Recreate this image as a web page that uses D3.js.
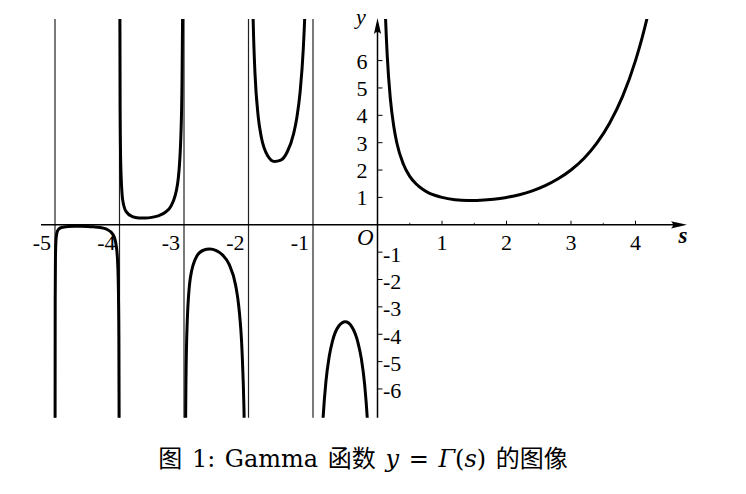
<!DOCTYPE html>
<html lang="zh">
<head>
  <meta charset="UTF-8">
  <title>Gamma</title>
  <script src="https://d3js.org/d3.v7.min.js"></script>
  <style>
    body { margin: 0; background: #fff; }
    text { font-family: "Liberation Serif", "Noto Sans CJK SC", serif; fill: #000; }
    text.cap { font-family: "DejaVu Serif", "Noto Sans CJK SC", serif; }
  </style>
</head>
<body>
  <script>
    (() => {
      "use strict";

      // ---------------------------------------------------------------
      //  Data
      // ---------------------------------------------------------------
      const xTicksNeg = [-5, -4, -3, -2, -1];
      const xTicksPos = [1, 2, 3, 4];
      const xMinor = [0.5, 1.5, 2.5, 3.5];
      const yTicksPos = [1, 2, 3, 4, 5, 6];
      const yTicksNeg = [-1, -2, -3, -4, -5, -6];
      const asymptotes = [-5, -4, -3, -2, -1];

      const branch1 = [[-4.999, -8.3], [-4.997, -2.8], [-4.993, -1.2], [-4.985, -0.57], [-4.97, -0.29],
        [-4.95, -0.18], [-4.9, -0.10], [-4.8, -0.062], [-4.7, -0.054], [-4.6, -0.054], [-4.5, -0.060],
        [-4.4, -0.074], [-4.3, -0.10], [-4.2, -0.16], [-4.1, -0.36], [-4.05, -0.78], [-4.03, -1.33],
        [-4.02, -2.0], [-4.01, -4.1], [-4.005, -8.2]];
      const branch2 = [[-3.9955, 9.3], [-3.99, 4.23], [-3.98, 2.15], [-3.95, 0.90], [-3.9, 0.49],
        [-3.8, 0.30], [-3.7, 0.252], [-3.6, 0.247], [-3.5, 0.270], [-3.4, 0.326], [-3.3, 0.439],
        [-3.2, 0.689], [-3.1, 1.49], [-3.05, 3.14], [-3.03, 5.35], [-3.02, 8.13]];
      const branch3 = [[-2.98, -8.55], [-2.97, -5.78], [-2.95, -3.56], [-2.9, -1.92], [-2.8, -1.14],
        [-2.7, -0.931], [-2.6, -0.889], [-2.5, -0.945], [-2.4, -1.108], [-2.3, -1.447], [-2.2, -2.205],
        [-2.15, -3.0], [-2.1, -4.63], [-2.07, -6.76], [-2.05, -9.58]];
      const branch4 = [[-1.95, 10.5], [-1.93, 7.67], [-1.92, 6.79], [-1.9, 5.56], [-1.85, 3.96],
        [-1.8, 3.19], [-1.7, 2.51], [-1.6, 2.31], [-1.5, 2.36], [-1.4, 2.66], [-1.3, 3.33],
        [-1.25, 3.92], [-1.2, 4.85], [-1.15, 6.45], [-1.12, 8.1], [-1.1, 9.72]];
      const branch5 = [[-0.9, -10.57], [-0.87, -8.32], [-0.85, -7.32], [-0.8, -5.74], [-0.75, -4.83],
        [-0.7, -4.27], [-0.6, -3.70], [-0.5, -3.545], [-0.4, -3.72], [-0.3, -4.33], [-0.25, -4.90],
        [-0.2, -5.82], [-0.15, -7.42], [-0.12, -9.05], [-0.1, -10.69]];
      const branch6 = [[0.1, 9.51], [0.12, 7.86], [0.15, 6.22], [0.2, 4.59], [0.25, 3.63], [0.3, 2.99],
        [0.4, 2.22], [0.5, 1.77], [0.6, 1.49], [0.7, 1.30], [0.8, 1.16], [0.9, 1.07], [1, 1],
        [1.2, 0.918], [1.4, 0.887], [1.5, 0.886], [1.6, 0.894], [1.8, 0.931], [2, 1], [2.2, 1.10],
        [2.4, 1.24], [2.6, 1.43], [2.8, 1.68], [3, 2], [3.2, 2.42], [3.4, 2.98], [3.6, 3.72],
        [3.8, 4.69], [4, 6], [4.1, 6.81], [4.2, 7.76], [4.25, 8.3]];
      const branches = [branch1, branch2, branch3, branch4, branch5, branch6];


      // ---------------------------------------------------------------
      //  Render
      // ---------------------------------------------------------------
      const W = 746, H = 494;
      const svg = d3.select("body").append("svg")
        .attr("width", W).attr("height", H);

      const x = d3.scaleLinear().domain([-5, 0]).range([55, 377.5]);
      const y = d3.scaleLinear().domain([-7.05, 7.52]).range([417.7, 19]);
      const x0 = x(0), y0 = y(0);

      svg.append("clipPath").attr("id", "clip")
        .append("rect")
          .attr("x", x(-5) - 2).attr("y", y(7.52))
          .attr("width", x(4.5) - x(-5)).attr("height", y(-7.05) - y(7.52));

      // asymptote lines
      svg.selectAll("line.asym")
        .data(asymptotes)
        .enter().append("line")
          .attr("class", "asym")
          .attr("x1", d => x(d)).attr("x2", d => x(d))
          .attr("y1", y(7.52)).attr("y2", y(-7.05))
          .attr("stroke", "#222").attr("stroke-width", 1.2);

      // x axis
      svg.append("line")
        .attr("x1", 41).attr("x2", 680).attr("y1", y0).attr("y2", y0)
        .attr("stroke", "#000").attr("stroke-width", 1.5);
      svg.append("path")
        .attr("d", `M687,${y0} L671,${y0 - 3.6} Q675,${y0} 671,${y0 + 3.6} Z`)
        .attr("fill", "#000");

      // y axis
      svg.append("line")
        .attr("x1", x0).attr("x2", x0).attr("y1", y(-7.05)).attr("y2", 26)
        .attr("stroke", "#000").attr("stroke-width", 1.5);
      svg.append("path")
        .attr("d", `M${x0},18 L${x0 - 3.6},34 Q${x0},30 ${x0 + 3.6},34 Z`)
        .attr("fill", "#000");

      // x ticks
      svg.selectAll("line.xt")
        .data(xTicksPos)
        .enter().append("line")
          .attr("x1", d => x(d)).attr("x2", d => x(d))
          .attr("y1", y0).attr("y2", y0 - 4)
          .attr("stroke", "#000").attr("stroke-width", 1);
      svg.selectAll("line.xm")
        .data(xMinor)
        .enter().append("line")
          .attr("x1", d => x(d)).attr("x2", d => x(d))
          .attr("y1", y0).attr("y2", y0 - 2)
          .attr("stroke", "#000").attr("stroke-width", 0.8);

      // y ticks
      svg.selectAll("line.yt")
        .data(yTicksPos.concat(yTicksNeg))
        .enter().append("line")
          .attr("x1", x0).attr("x2", x0 + 5)
          .attr("y1", d => y(d)).attr("y2", d => y(d))
          .attr("stroke", "#000").attr("stroke-width", 1);

      // tick labels
      const fs = 22;
      svg.selectAll("text.xln")
        .data(xTicksNeg)
        .enter().append("text")
          .attr("x", d => x(d) - 4).attr("y", y0 + 25.5)
          .attr("text-anchor", "end").attr("font-size", fs)
          .text(d => "-" + Math.abs(d));
      svg.selectAll("text.xlp")
        .data(xTicksPos)
        .enter().append("text")
          .attr("x", d => x(d)).attr("y", y0 + 25.5)
          .attr("text-anchor", "middle").attr("font-size", fs)
          .text(d => d);
      svg.append("text")
        .attr("x", x0 - 4).attr("y", y0 + 20.5)
        .attr("text-anchor", "end").attr("font-size", 23)
        .attr("font-style", "italic")
        .text("O");
      svg.selectAll("text.ylp")
        .data(yTicksPos)
        .enter().append("text")
          .attr("x", x0 - 10).attr("y", d => y(d) + 8)
          .attr("text-anchor", "end").attr("font-size", fs)
          .text(d => d);
      svg.selectAll("text.yln")
        .data(yTicksNeg)
        .enter().append("text")
          .attr("x", x0 + 5.5).attr("y", d => y(d) + 9.5)
          .attr("text-anchor", "start").attr("font-size", fs)
          .text(d => "-" + Math.abs(d));

      // axis names
      svg.append("text")
        .attr("x", 361).attr("y", 24)
        .attr("text-anchor", "middle").attr("font-size", 22)
        .attr("font-style", "italic")
        .text("y");
      svg.append("text")
        .attr("x", 683).attr("y", 243)
        .attr("text-anchor", "middle").attr("font-size", 23)
        .attr("font-style", "italic").attr("font-weight", "bold")
        .text("s");

      // curves
      const line = d3.line()
        .x(d => x(d[0])).y(d => y(d[1]))
        .curve(d3.curveMonotoneX);
      svg.append("g").attr("clip-path", "url(#clip)")
        .selectAll("path")
        .data(branches)
        .enter().append("path")
          .attr("d", line)
          .attr("fill", "none")
          .attr("stroke", "#000")
          .attr("stroke-width", 3);

      // caption
      const cap = svg.append("text")
        .attr("class", "cap")
        .attr("x", 363).attr("y", 467)
        .attr("text-anchor", "middle").attr("font-size", 24)
        .attr("word-spacing", 2);
      cap.append("tspan").text("图 1: Gamma 函数 ");
      cap.append("tspan").attr("font-style", "italic").text("y");
      cap.append("tspan").text(" = ");
      cap.append("tspan").attr("font-style", "italic").text("Γ");
      cap.append("tspan").text("(");
      cap.append("tspan").attr("font-style", "italic").text("s");
      cap.append("tspan").text(") 的图像");
    })();
  </script>
</body>
</html>
